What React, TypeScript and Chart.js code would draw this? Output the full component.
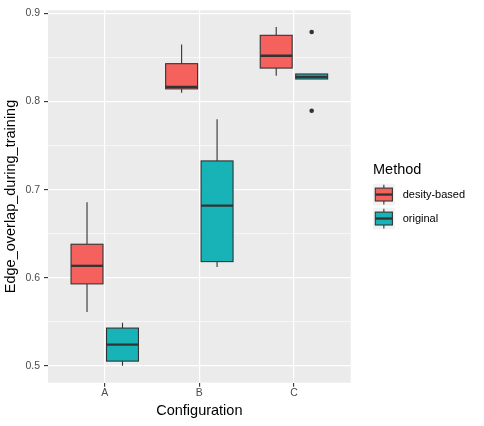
import React, { useEffect, useRef } from "react";
import { Chart, registerables } from "chart.js";

Chart.register(...registerables);

// Categories and groups
const categories = ["A", "B", "C"];
const methods = ["desity-based", "original"];
const methodColors = ["#F5625E", "#18B3B6"];

// Box statistics for "desity-based"
const densityLower = [0.561, 0.81, 0.8294];
const densityQ1 = [0.593, 0.8144, 0.838];
const densityMedian = [0.6135, 0.8166, 0.852];
const densityQ3 = [0.638, 0.843, 0.8752];
const densityUpper = [0.6856, 0.8647, 0.8846];

// Box statistics for "original"
const originalLower = [0.5, 0.6123, 0.8256];
const originalQ1 = [0.5053, 0.6183, 0.8256];
const originalMedian = [0.5241, 0.6818, 0.828];
const originalQ3 = [0.5428, 0.7326, 0.8313];
const originalUpper = [0.549, 0.78, 0.8313];

// Outliers of "original"
const outlierCategory = ["C", "C"];
const outlierValue = [0.879, 0.7896];

// Axis ticks
const yMajorTicks = [0.5, 0.6, 0.7, 0.8, 0.9];
const yMinorTicks = [0.55, 0.65, 0.75, 0.85];

const boxSeries = [
  { lower: densityLower, q1: densityQ1, median: densityMedian, q3: densityQ3, upper: densityUpper },
  { lower: originalLower, q1: originalQ1, median: originalMedian, q3: originalQ3, upper: originalUpper },
];

const DODGE = 0.375;
const BOX_WIDTH = 0.3375;
const INK = "#333333";
const FONT = "'Liberation Sans', Arial, Helvetica, sans-serif";

const isMajor = (v: number) => yMajorTicks.some((t) => Math.abs(t - v) < 1e-6);
const groupOffset = (m: number) => (m - (methods.length - 1) / 2) * DODGE;

const boxPlugin = {
  id: "boxes",
  beforeDraw(chart: any) {
    const { ctx, chartArea } = chart;
    ctx.save();
    ctx.fillStyle = "#EBEBEB";
    ctx.fillRect(chartArea.left, chartArea.top, chartArea.right - chartArea.left, chartArea.bottom - chartArea.top);
    ctx.restore();
  },
  beforeDatasetsDraw(chart: any) {
    const { ctx } = chart;
    const xs = chart.scales.x;
    const ys = chart.scales.y;
    const half = xs.getPixelForValue(BOX_WIDTH / 2) - xs.getPixelForValue(0);
    ctx.save();
    boxSeries.forEach((s, m) => {
      categories.forEach((_, i) => {
        const cx = xs.getPixelForValue(i + groupOffset(m));
        const yLo = ys.getPixelForValue(s.lower[i]);
        const yQ1 = ys.getPixelForValue(s.q1[i]);
        const yMed = ys.getPixelForValue(s.median[i]);
        const yQ3 = ys.getPixelForValue(s.q3[i]);
        const yHi = ys.getPixelForValue(s.upper[i]);
        ctx.strokeStyle = INK;
        ctx.lineWidth = 1.1;
        ctx.beginPath();
        ctx.moveTo(cx, yHi);
        ctx.lineTo(cx, yQ3);
        ctx.moveTo(cx, yQ1);
        ctx.lineTo(cx, yLo);
        ctx.stroke();
        ctx.fillStyle = methodColors[m];
        ctx.fillRect(cx - half, yQ3, 2 * half, yQ1 - yQ3);
        ctx.strokeRect(cx - half, yQ3, 2 * half, yQ1 - yQ3);
        ctx.lineWidth = 2.3;
        ctx.beginPath();
        ctx.moveTo(cx - half, yMed);
        ctx.lineTo(cx + half, yMed);
        ctx.stroke();
      });
    });
    ctx.restore();
  },
  afterDraw(chart: any) {
    const { ctx, chartArea } = chart;
    const left = chartArea.right + 22.3;
    const mid = (chartArea.top + chartArea.bottom) / 2;
    const keySize = 21.7;
    const keyStep = 24;
    const firstKeyTop = mid - 12.8;
    ctx.save();
    ctx.textBaseline = "middle";
    ctx.textAlign = "left";
    ctx.fillStyle = "#000000";
    ctx.font = `14.5px ${FONT}`;
    ctx.fillText("Method", left, mid - 27);
    methods.forEach((name, m) => {
      const top = firstKeyTop + m * keyStep;
      ctx.fillStyle = "#F2F2F2";
      ctx.fillRect(left, top, keySize, keySize);
      const cx = left + keySize / 2;
      const bTop = top + 4.4;
      const bBot = top + keySize - 4.4;
      ctx.strokeStyle = INK;
      ctx.lineWidth = 1.1;
      ctx.beginPath();
      ctx.moveTo(cx, top + 1);
      ctx.lineTo(cx, bTop);
      ctx.moveTo(cx, bBot);
      ctx.lineTo(cx, top + keySize - 1);
      ctx.stroke();
      ctx.fillStyle = methodColors[m];
      ctx.fillRect(left + 2.3, bTop, keySize - 4.6, bBot - bTop);
      ctx.strokeRect(left + 2.3, bTop, keySize - 4.6, bBot - bTop);
      ctx.lineWidth = 2.3;
      ctx.beginPath();
      ctx.moveTo(left + 2.3, top + keySize / 2);
      ctx.lineTo(left + keySize - 2.3, top + keySize / 2);
      ctx.stroke();
      ctx.fillStyle = "#000000";
      ctx.font = `11px ${FONT}`;
      ctx.fillText(name, left + keySize + 8, top + keySize / 2);
    });
    ctx.restore();
  },
};

export default function App() {
  const canvasRef = useRef<HTMLCanvasElement | null>(null);

  useEffect(() => {
    const canvas = canvasRef.current;
    if (!canvas) return;
    const outliers = outlierValue.map((v, k) => ({
      x: categories.indexOf(outlierCategory[k]) + groupOffset(1),
      y: v,
    }));
    const chart = new Chart(canvas, {
      type: "scatter",
      data: {
        datasets: [
          {
            label: "outliers",
            data: outliers,
            pointRadius: 2.3,
            pointHoverRadius: 2.3,
            backgroundColor: INK,
            borderWidth: 0,
          },
        ],
      },
      options: {
        animation: false,
        responsive: false,
        devicePixelRatio: 1,
        layout: { padding: { top: 7.5, right: 133.3, left: 0, bottom: 0 } },
        plugins: { legend: { display: false }, tooltip: { enabled: false } },
        events: [],
        scales: {
          x: {
            type: "linear",
            min: -0.6,
            max: 2.6,
            afterBuildTicks: (scale: any) => {
              scale.ticks = categories.map((_, i) => ({ value: i }));
            },
            afterFit: (scale: any) => {
              scale.height = 43.3;
            },
            border: { display: false },
            grid: {
              color: "#FFFFFF",
              lineWidth: 1.2,
              drawTicks: true,
              tickLength: 4,
              tickColor: INK,
              tickWidth: 1.1,
            },
            ticks: {
              color: "#4D4D4D",
              font: { family: FONT, size: 10.5 },
              padding: 0.5,
              maxRotation: 0,
              callback: (v: any) => categories[Number(v)] ?? "",
            },
            title: {
              display: true,
              text: "Configuration",
              color: "#000000",
              font: { family: FONT, size: 14.5 },
              padding: { top: 0, bottom: 6.8 },
            },
          },
          y: {
            type: "linear",
            min: 0.4808,
            max: 0.9036,
            afterBuildTicks: (scale: any) => {
              scale.ticks = [...yMajorTicks, ...yMinorTicks]
                .sort((a, b) => a - b)
                .map((v) => ({ value: v }));
            },
            afterFit: (scale: any) => {
              scale.width = 48;
            },
            border: { display: false },
            grid: {
              color: "#FFFFFF",
              lineWidth: (c: any) => (isMajor(c.tick?.value) ? 1.2 : 0.6),
              drawTicks: true,
              tickLength: 4,
              tickColor: (c: any) => (isMajor(c.tick?.value) ? INK : "rgba(0,0,0,0)"),
              tickWidth: 1.1,
            },
            ticks: {
              color: "#4D4D4D",
              font: { family: FONT, size: 10.5 },
              padding: 4,
              autoSkip: false,
              callback: (v: any) => (isMajor(Number(v)) ? Number(v).toFixed(1) : ""),
            },
            title: {
              display: true,
              text: "Edge_overlap_during_training",
              color: "#000000",
              font: { family: FONT, size: 14.5 },
              padding: { top: 2, bottom: 0 },
            },
          },
        },
      },
      plugins: [boxPlugin],
    } as any);
    return () => chart.destroy();
  }, []);

  return (
    <div style={{ position: "fixed", left: 0, top: 0, width: 484, height: 426, background: "#FFFFFF" }}>
      <canvas ref={canvasRef} width={484} height={426} style={{ display: "block", width: 484, height: 426 }} />
    </div>
  );
}
